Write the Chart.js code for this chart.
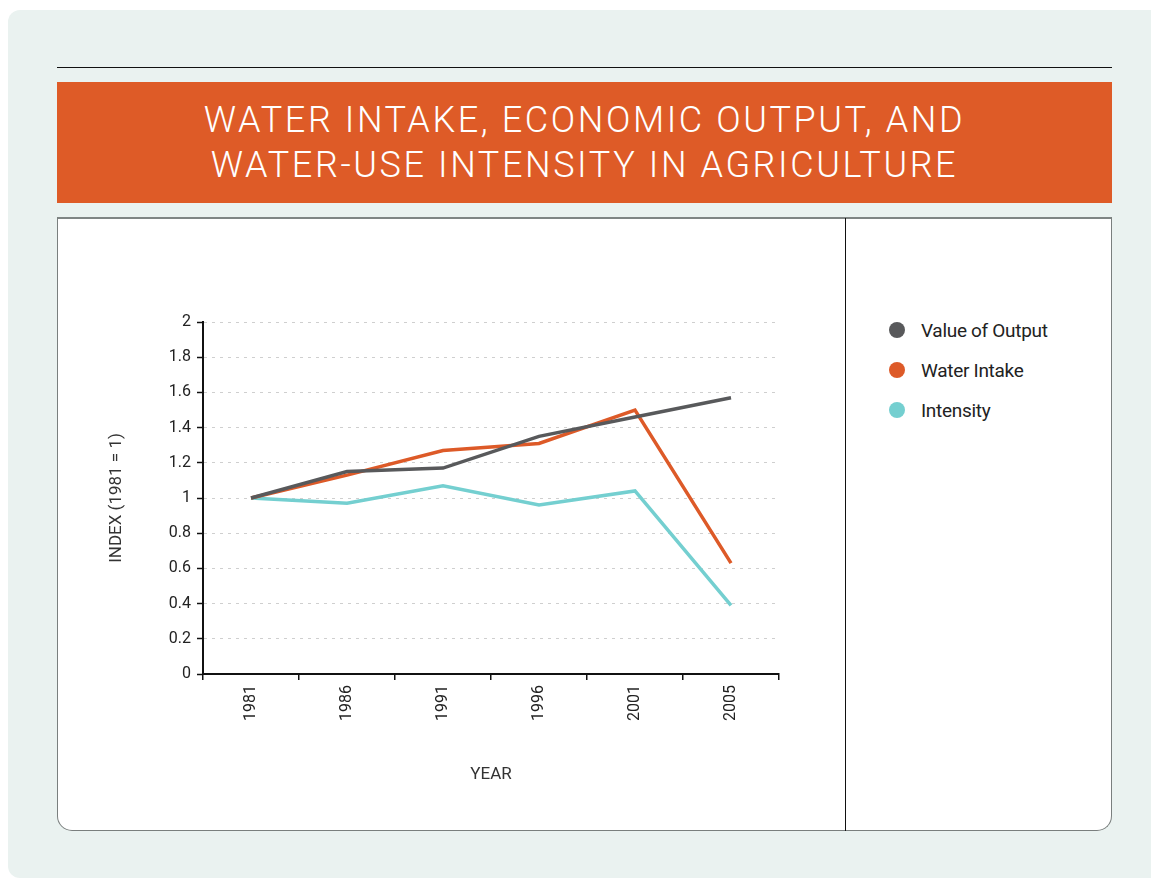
<!DOCTYPE html>
<html>
<head>
<meta charset="utf-8">
<script src="https://cdn.jsdelivr.net/npm/chart.js@4"></script>
<style>
  html, body { margin: 0; padding: 0; background: #fff; }
  body { width: 1151px; height: 888px; position: relative; overflow: hidden; font-family: Roboto, sans-serif; }
  .panel { position: absolute; left: 8px; top: 10px; width: 1155px; height: 868px; background: #eaf2f0; border-radius: 12px; }
  .rule { position: absolute; left: 57px; top: 67px; width: 1055px; height: 1px; background: #111; }
  .banner { position: absolute; left: 57px; top: 82px; width: 1055px; height: 121px; background: #de5b27;
    color: #fff; text-align: center; font-weight: 300; font-size: 36px; line-height: 45px; letter-spacing: 2.6px;
    box-sizing: border-box; padding-top: 16px; }
  .box { position: absolute; left: 57px; top: 217px; width: 1055px; height: 614px; background: #fff;
    box-sizing: border-box; border: 1px solid #7a7f7e; border-top: 2px solid #7f8584; border-radius: 0 0 15px 15px; }
  .divider { position: absolute; left: 845px; top: 218px; width: 1px; height: 613px; background: #111; }
  #wrap { position: absolute; left: 57px; top: 217px; width: 788px; height: 614px; }
  #legend { position: absolute; left: 889px; top: 319px; }
  .item { height: 40px; display: flex; align-items: flex-start; font-size: 19px; letter-spacing: -0.3px; color: #222; }
  .dot { width: 16px; height: 16px; border-radius: 50%; margin-top: 3px; margin-right: 16px; }
</style>
</head>
<body>
<div class="panel"></div>
<div class="rule"></div>
<div class="banner">WATER INTAKE, ECONOMIC OUTPUT, AND<br>WATER-USE INTENSITY IN AGRICULTURE</div>
<div class="box"></div>
<div class="divider"></div>
<div id="wrap"><canvas id="chart" width="788" height="614"></canvas></div>
<div id="legend"></div>
<script>
// 数据
const years = ['1981', '1986', '1991', '1996', '2001', '2005'];
const valueOfOutput = [1.0, 1.15, 1.17, 1.35, 1.46, 1.57];
const waterIntake = [1.0, 1.13, 1.27, 1.31, 1.50, 0.63];
const intensity = [1.0, 0.97, 1.07, 0.96, 1.04, 0.39];
const seriesNames = ['Value of Output', 'Water Intake', 'Intensity'];
const seriesColors = ['#58595b', '#dd5a28', '#74cfd0'];

const tickFont = { family: 'Roboto', size: 16 };

const ctx = document.getElementById('chart').getContext('2d');
const chart = new Chart(ctx, {
  type: 'line',
  data: {
    labels: years,
    datasets: [valueOfOutput, waterIntake, intensity].map((d, i) => ({
      label: seriesNames[i],
      data: d,
      borderColor: seriesColors[i],
      backgroundColor: seriesColors[i],
      borderWidth: 3.5,
      pointRadius: 0,
      tension: 0,
      fill: false
    }))
  },
  options: {
    responsive: false,
    animation: false,
    layout: { padding: { left: 46, top: 105, right: 66, bottom: 42 } },
    plugins: { legend: { display: false }, tooltip: { enabled: false } },
    scales: {
      x: {
        offset: true,
        afterFit: s => { s.height = 115; },
        grid: { offset: true, drawOnChartArea: false, drawTicks: true, tickLength: 6, color: '#111', lineWidth: 1.5 },
        border: { color: '#111', width: 2 },
        ticks: { color: '#222', font: tickFont, minRotation: 90, maxRotation: 90, autoSkip: false, padding: 5 },
        title: { display: true, text: 'YEAR', color: '#333', font: { family: 'Roboto', size: 17 } }
      },
      y: {
        min: 0,
        max: 2,
        afterFit: s => { s.width = 100; },
        grid: { color: '#cfcfcf', lineWidth: 1, tickLength: 6, tickColor: '#111', tickWidth: 1.5 },
        border: { color: '#111', width: 2, dash: [3, 5] },
        ticks: { stepSize: 0.2, color: '#222', font: tickFont, padding: 6,
          callback: v => +v.toFixed(1) },
        title: { display: true, text: 'INDEX (1981 = 1)', color: '#333', font: { family: 'Roboto', size: 17 } }
      }
    }
  }
});

// 图例
const legend = document.getElementById('legend');
chart.data.datasets.forEach(ds => {
  const item = document.createElement('div');
  item.className = 'item';
  item.innerHTML = '<span class="dot" style="background:' + ds.borderColor + '"></span>' + ds.label;
  legend.appendChild(item);
});
</script>
</body>
</html>
